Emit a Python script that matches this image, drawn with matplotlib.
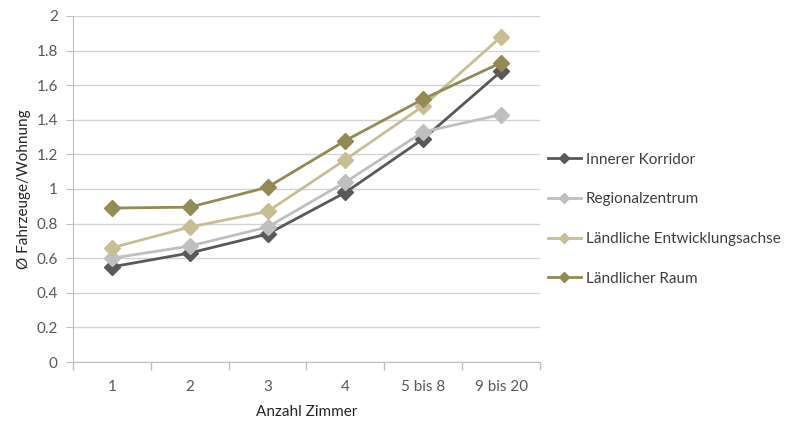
import matplotlib
matplotlib.use("Agg")
import matplotlib.pyplot as plt
from matplotlib.ticker import FixedLocator, NullFormatter

categories = ["1", "2", "3", "4", "5 bis 8", "9 bis 20"]
innerer_korridor = [0.55, 0.63, 0.74, 0.98, 1.29, 1.68]
regionalzentrum = [0.60, 0.67, 0.78, 1.04, 1.33, 1.43]
laendl_entwicklungsachse = [0.66, 0.78, 0.87, 1.17, 1.48, 1.88]
laendlicher_raum = [0.89, 0.895, 1.01, 1.28, 1.52, 1.73]

series = [
    ("Innerer Korridor", innerer_korridor, "#595959"),
    ("Regionalzentrum", regionalzentrum, "#BFBFBF"),
    ("Ländliche Entwicklungsachse", laendl_entwicklungsachse, "#C9BE93"),
    ("Ländlicher Raum", laendlicher_raum, "#948A54"),
]

plt.rcParams['font.family'] = ['Lato', 'DejaVu Sans']

fig = plt.figure(figsize=(7.93, 4.23), dpi=100)
ax = fig.add_axes([0.092, 0.1442, 0.589, 0.818])

x = list(range(len(categories)))
for name, vals, col in series:
    ax.plot(x, vals, color=col, lw=2.0, marker="D", markersize=8, label=name)

ax.set_xlim(-0.5, len(categories) - 0.5)
ax.set_ylim(0, 2)
ax.set_yticks([0, 0.2, 0.4, 0.6, 0.8, 1.0, 1.2, 1.4, 1.6, 1.8, 2.0])
ax.set_yticklabels(["0", "0.2", "0.4", "0.6", "0.8", "1", "1.2", "1.4", "1.6", "1.8", "2"])
ax.set_xticks(x)
ax.set_xticklabels(categories)
ax.xaxis.set_minor_locator(FixedLocator([i - 0.5 for i in range(len(categories) + 1)]))
ax.xaxis.set_minor_formatter(NullFormatter())
ax.tick_params(axis="x", which="major", length=0, pad=13, labelsize=11, labelcolor="#595959")
ax.tick_params(axis="x", which="minor", length=6, color="#BFBFBF", width=1)
ax.tick_params(axis="y", length=5, color="#BFBFBF", labelsize=11, labelcolor="#595959", pad=6)

ax.grid(axis="y", color="#D3D3D3", lw=1)
ax.set_axisbelow(True)
for s in ["top", "right"]:
    ax.spines[s].set_visible(False)
for s in ["left", "bottom"]:
    ax.spines[s].set_color("#BFBFBF")

ax.set_xlabel("Anzahl Zimmer", fontsize=11, color="#262626", labelpad=8)
ax.set_ylabel("Ø Fahrzeuge/Wohnung", fontsize=11, color="#262626", labelpad=4)

leg = ax.legend(loc="center left", bbox_to_anchor=(1.0, 0.413), frameon=False,
                fontsize=11, handlelength=2.2, labelspacing=1.68, markerscale=0.6,
                handletextpad=0.3, borderaxespad=0.1)
for t in leg.get_texts():
    t.set_color("#404040")

fig.savefig("out.png", dpi=100)
